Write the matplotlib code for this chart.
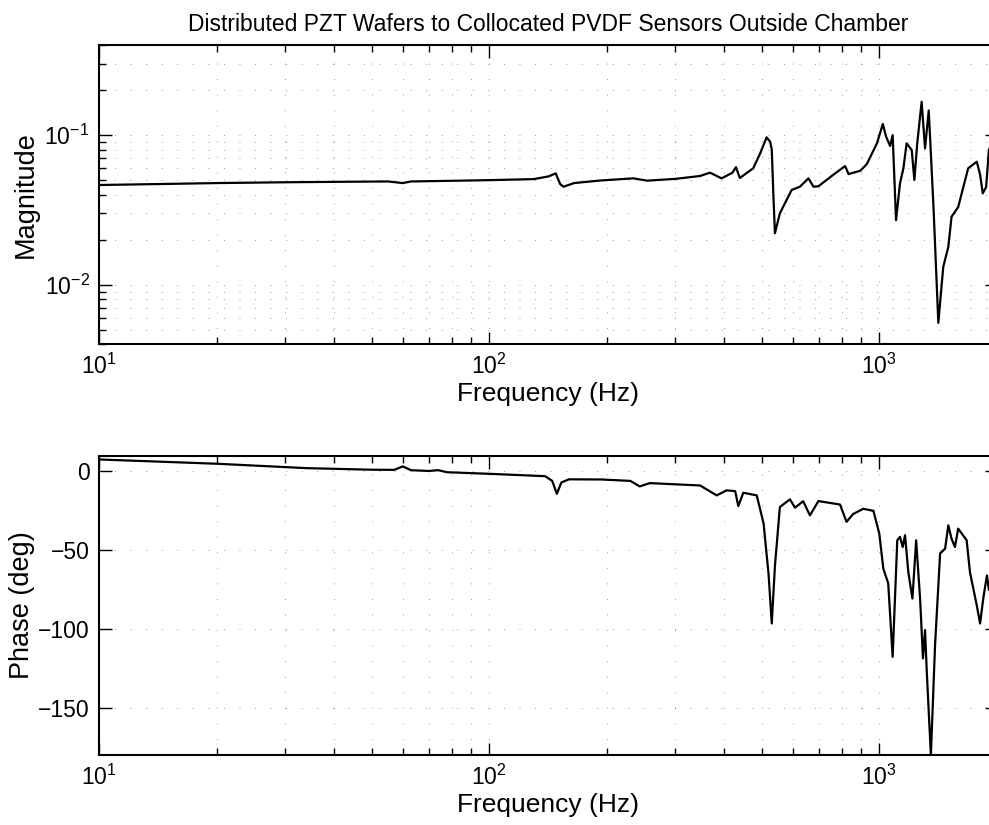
import matplotlib
matplotlib.use("Agg")
import matplotlib.pyplot as plt
from matplotlib.ticker import LogLocator, FixedLocator, NullFormatter

plt.rcParams['font.family'] = ['Liberation Sans', 'DejaVu Sans']
plt.rcParams['mathtext.fontset'] = 'custom'
plt.rcParams['mathtext.rm'] = 'Liberation Sans'
plt.rcParams['mathtext.it'] = 'Liberation Sans:italic'
plt.rcParams['mathtext.bf'] = 'Liberation Sans:bold'

title = "Distributed PZT Wafers to Collocated PVDF Sensors Outside Chamber"
xlabel = "Frequency (Hz)"
mag_label = "Magnitude"
phase_label = "Phase (deg)"

mag_freq = [10, 15, 20, 30, 40, 55, 60, 63, 80, 100, 130, 142, 148, 152, 155, 165,
            192, 234, 254, 300, 347, 368, 394, 420, 429, 439, 475, 495, 514, 525,
            530, 535, 540, 556, 596, 626, 658, 678, 698, 760, 817, 834, 894, 929,
            986, 1021, 1041, 1066, 1082, 1104, 1130, 1153, 1175, 1211, 1230, 1251,
            1284, 1310, 1339, 1377, 1417, 1459, 1503, 1532, 1593, 1690, 1778, 1813,
            1842, 1879, 1910, 1950]
mag_vals = [0.0464, 0.0472, 0.0478, 0.0484, 0.0487, 0.0490, 0.0478, 0.0490, 0.0495,
            0.0500, 0.0508, 0.0530, 0.0555, 0.0470, 0.0452, 0.0478, 0.0497, 0.0514,
            0.0496, 0.0510, 0.0533, 0.0561, 0.0514, 0.0560, 0.0610, 0.0517, 0.0600,
            0.0755, 0.0966, 0.0904, 0.0800, 0.0400, 0.0221, 0.0300, 0.0430, 0.0452,
            0.0514, 0.0452, 0.0455, 0.0540, 0.0621, 0.0549, 0.0578, 0.0640, 0.0880,
            0.1186, 0.0976, 0.0846, 0.1000, 0.0270, 0.0476, 0.0600, 0.0880, 0.0795,
            0.0501, 0.0880, 0.1670, 0.0815, 0.1460, 0.0332, 0.00557, 0.0132, 0.0179,
            0.0285, 0.0330, 0.0600, 0.0664, 0.0546, 0.0408, 0.0450, 0.0795, 0.0900]

phase_freq = [10, 20, 34, 50, 57, 60, 63, 70, 74, 78, 100, 139, 145, 149, 153, 160,
              194, 230, 243, 258, 347, 383, 406, 427, 435, 448, 485, 505, 520, 530,
              540, 556, 590, 608, 638, 664, 698, 793, 824, 857, 910, 966, 1000, 1024,
              1054, 1082, 1112, 1130, 1148, 1164, 1187, 1216, 1243, 1273, 1294, 1310,
              1324, 1356, 1390, 1432, 1475, 1503, 1532, 1563, 1593, 1675, 1708, 1778,
              1813, 1849, 1888, 1910]
phase_vals = [7.6, 4.9, 2.1, 1.1, 1.0, 3.2, 0.8, 0.3, 0.8, -0.5, -1.5, -3.0, -6.0,
              -14.2, -7.0, -5.0, -5.1, -6.0, -9.5, -7.4, -8.9, -15.2, -12.0, -12.5,
              -22.0, -13.5, -15.2, -33.0, -65.0, -96.5, -60.0, -22.6, -17.7, -23.0,
              -18.9, -27.9, -18.8, -21.0, -32.0, -27.0, -23.7, -25.0, -39.5, -61.7,
              -71.0, -117.7, -43.7, -41.5, -48.0, -40.5, -64.0, -80.7, -43.7, -81.7,
              -118.7, -100.7, -128.0, -180.0, -110.0, -52.0, -49.0, -34.2, -42.7,
              -48.0, -36.3, -43.7, -64.0, -85.0, -96.5, -80.0, -66.0, -75.0]

phase_ticks = [0, -50, -100, -150]

W, H = 989, 825
fig = plt.figure(figsize=(W / 100, H / 100), dpi=100)
left = 99.3 / W
width = 897.4 / W
ax1 = fig.add_axes([left, 1 - 344.3 / H, width, 299.3 / H])
ax2 = fig.add_axes([left, 1 - 755.0 / H, width, 299.3 / H])

grid_kw = dict(color='black', linestyle=(0, (1, 15)), linewidth=0.7, alpha=0.4)

for ax in (ax1, ax2):
    ax.set_xscale('log')
    ax.set_xlim(10, 2000)
    ax.xaxis.set_major_locator(LogLocator(base=10, numticks=10))
    ax.xaxis.set_minor_locator(LogLocator(base=10, subs=range(2, 10), numticks=20))
    ax.xaxis.set_minor_formatter(NullFormatter())
    ax.tick_params(which='both', direction='in', top=True, right=True,
                   labelsize=16.5, width=1.0)
    ax.tick_params(which='major', length=9, pad=7)
    ax.tick_params(which='minor', length=5)
    for s in ax.spines.values():
        s.set_linewidth(1.5)
    ax.set_xlabel(xlabel, fontsize=19, labelpad=2)
    ax.set_axisbelow(True)

ax1.plot(mag_freq, mag_vals, color='black', linewidth=1.6)
ax1.set_yscale('log')
ax1.set_ylim(0.004, 0.4)
ax1.yaxis.set_minor_locator(LogLocator(base=10, subs=range(2, 10), numticks=20))
ax1.yaxis.set_minor_formatter(NullFormatter())
ax1.set_ylabel(mag_label, fontsize=19.5, labelpad=4)
ax1.grid(True, which='both', **grid_kw)
ax1.set_title(title, fontsize=16.5, pad=10)

ax2.plot(phase_freq, phase_vals, color='black', linewidth=1.6)
ax2.set_ylim(-180, 10)
ax2.yaxis.set_major_locator(FixedLocator(phase_ticks))
ax2.set_ylabel(phase_label, fontsize=19.5, labelpad=2)
ax2.grid(True, which='major', **grid_kw)
ax2.grid(True, which='minor', axis='x', **grid_kw)

fig.savefig("out.png", dpi=100)
